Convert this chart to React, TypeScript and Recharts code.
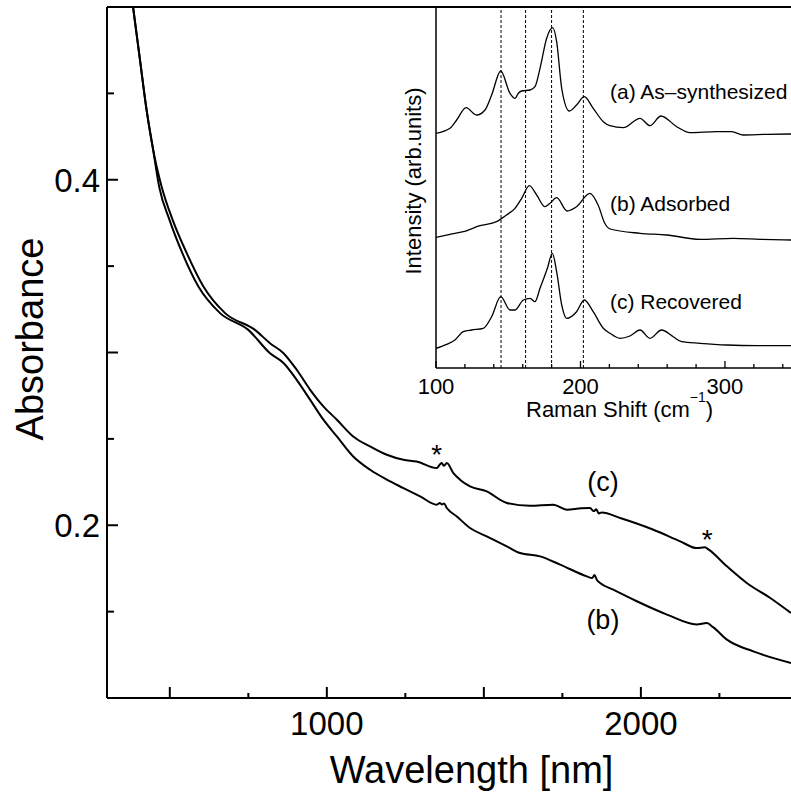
import React from 'react';
import { LineChart, Line, XAxis, YAxis, ReferenceLine, ReferenceDot, Label } from 'recharts';

const FONT = '"Liberation Sans", Arial, Helvetica, sans-serif';

// absorption spectra, [wavelength nm, absorbance]
const recoveredC: [number, number][] = [
  [383, 0.5], [405, 0.4694], [426, 0.4404], [447, 0.4173], [474, 0.396], [509, 0.3768],
  [554, 0.3575], [607, 0.3382], [676, 0.3228], [771, 0.3131], [819, 0.3054], [862, 0.2996],
  [904, 0.29], [947, 0.2784], [989, 0.2688], [1032, 0.2611], [1084, 0.2514], [1138, 0.2456],
  [1191, 0.2408], [1244, 0.2379], [1286, 0.2369], [1350, 0.2331], [1360, 0.2352], [1366, 0.236],
  [1373, 0.2344], [1382, 0.236], [1403, 0.2302], [1424, 0.2264], [1456, 0.2225], [1509, 0.2196],
  [1573, 0.2129], [1647, 0.2113], [1721, 0.2119], [1764, 0.209], [1810, 0.2098], [1838, 0.21],
  [1850, 0.2082], [1858, 0.2092], [1866, 0.2068], [1875, 0.2074], [1934, 0.2042], [2040, 0.1974],
  [2125, 0.1907], [2178, 0.1868], [2204, 0.1872], [2215, 0.186], [2274, 0.1762], [2337, 0.1666],
  [2412, 0.1579], [2478, 0.1492],
];

const adsorbedB: [number, number][] = [
  [383, 0.5], [405, 0.4694], [426, 0.4404], [447, 0.4173], [466, 0.396], [499, 0.3768],
  [540, 0.3575], [591, 0.3382], [660, 0.3228], [750, 0.3131], [819, 0.2996], [862, 0.2939],
  [904, 0.2842], [947, 0.2726], [989, 0.2611], [1032, 0.2514], [1084, 0.2398], [1138, 0.2321],
  [1191, 0.2264], [1244, 0.2215], [1297, 0.2167], [1350, 0.2119], [1360, 0.2129], [1366, 0.212],
  [1373, 0.2126], [1382, 0.21], [1414, 0.2051], [1456, 0.1984], [1509, 0.1936], [1573, 0.1878],
  [1615, 0.1839], [1679, 0.182], [1743, 0.1772], [1828, 0.1704], [1845, 0.1694], [1852, 0.1712],
  [1860, 0.1683], [1870, 0.1666], [1912, 0.1627], [1987, 0.156], [2083, 0.1483], [2178, 0.1426],
  [2210, 0.1434], [2230, 0.141], [2274, 0.1338], [2358, 0.127], [2478, 0.1203],
];

const wlTicks = [500, 750, 1000, 1250, 1500, 1750, 2000, 2250];
const wlMajor = [500, 1000, 1500, 2000];
const wlLabels = [1000, 2000];
const absTicks = [0.15, 0.2, 0.25, 0.3, 0.35, 0.4, 0.45];
const absMajor = [0.2, 0.3, 0.4];
const absLabels = [0.2, 0.4];

// raman inset, [shift cm-1, intensity arb.]
const ramanA: [number, number][] = [
  [100, 234.7], [109.7, 239.7], [114.3, 248], [120.8, 260.3], [128.1, 253], [133.9, 258],
  [138.5, 273], [144.8, 297], [151.2, 274.7], [154.7, 269.7], [157, 274.7], [159.3, 277],
  [165.1, 278], [168.5, 281.3], [172, 299.7], [176.6, 329.7], [180.7, 340.3], [183.5, 326.3],
  [187, 279.7], [192.3, 257], [197.3, 263], [202.6, 271.3], [208.8, 259.7], [215.8, 246.3],
  [220.4, 242.3], [229.6, 240.3], [241.2, 249.7], [248.1, 242.3], [255.7, 252], [266.6, 241.3],
  [275.8, 235.3], [294.3, 236.3], [304.6, 236.3], [312.7, 233], [328.9, 233.7], [345.7, 234],
];

const ramanB: [number, number][] = [
  [100, 130.7], [109.7, 133.7], [118.9, 136.3], [130.4, 142.3], [141.9, 146.3], [148.8, 153],
  [154.7, 159.7], [159.3, 169.7], [164.6, 182.3], [169.7, 173], [175.4, 161.3], [178.9, 164.7],
  [183.5, 170.3], [190.8, 157], [197.3, 161.3], [206.5, 174.7], [212.2, 163], [216.8, 144.7],
  [220.4, 139], [241.2, 134.7], [259.7, 133], [282.8, 128.7], [305.8, 129.7], [324.3, 128.7],
  [345.7, 128],
];

const ramanC: [number, number][] = [
  [100, 19.7], [107.4, 23.7], [113.1, 28], [118.9, 36.3], [124.7, 38], [132.7, 39.7],
  [138.5, 51.3], [144.8, 71.3], [151.2, 58], [154.7, 58], [160.4, 68], [165.1, 69.7],
  [168.5, 66.3], [172, 79.7], [177.1, 99.7], [180.5, 114.7], [183.5, 96.3], [187, 63],
  [190.4, 49.7], [197.3, 56.3], [202.6, 68], [208.8, 56.3], [215.8, 39.7], [220.4, 34.7],
  [227.3, 29.7], [234.2, 32], [241.2, 38], [248.1, 29.7], [256.1, 38], [264.2, 31.3],
  [270, 26.3], [282.8, 24.7], [301.2, 23], [322, 22.3], [345.7, 22.3],
];

const ramanTicks = [100, 120, 140, 160, 180, 200, 220, 240, 260, 280, 300, 320, 340];
const ramanLabels = [100, 200, 300];
const ramanPeaks = [145, 162, 180, 202];

const toPts = (arr: [number, number][]) => arr.map(([x, y]) => ({ x, y }));
const near = (list: number[], v: number) => list.some((t) => Math.abs(t - v) < 1e-6);

const txt = { fill: '#000', fontFamily: FONT };

const WlTick = (p: any) => {
  const v = p.payload.value;
  const len = near(wlMajor, v) ? 11 : 5;
  return (
    <g>
      <line x1={p.x} y1={p.y} x2={p.x} y2={p.y - len} stroke="#000" strokeWidth={2} />
      {near(wlLabels, v) && (
        <text x={p.x} y={p.y + 37} textAnchor="middle" fontSize={33} {...txt}>{v}</text>
      )}
    </g>
  );
};

const AbsTick = (p: any) => {
  const v = p.payload.value;
  const len = near(absMajor, v) ? 11 : 7;
  return (
    <g>
      <line x1={p.x} y1={p.y} x2={p.x + len} y2={p.y} stroke="#000" strokeWidth={2} />
      {near(absLabels, v) && (
        <text x={p.x - 7} y={p.y + 12} textAnchor="end" fontSize={33} {...txt}>{v.toFixed(1)}</text>
      )}
    </g>
  );
};

const RamanTick = (p: any) => {
  const v = p.payload.value;
  const len = near(ramanLabels, v) ? 7 : 4;
  return (
    <g>
      <line x1={p.x} y1={p.y} x2={p.x} y2={p.y - len} stroke="#000" strokeWidth={1.3} />
      {near(ramanLabels, v) && (
        <text x={p.x} y={p.y + 26} textAnchor="middle" fontSize={22} {...txt}>{v}</text>
      )}
    </g>
  );
};

const boxOf = (p: any) => p.viewBox || { x: p.x || 0, y: p.y || 0, width: 0, height: 0 };

// text centred on a reference dot
const tag = (value: string, size: number, dy: number, anchor = 'middle') => (p: any) => {
  const vb = boxOf(p);
  return (
    <text x={vb.x + (vb.width || 0) / 2} y={vb.y + (vb.height || 0) / 2 + dy} textAnchor={anchor} fontSize={size} {...txt}>
      {value}
    </text>
  );
};

const AbsTitle = (p: any) => {
  const vb = boxOf(p);
  const x = vb.x + 43;
  const y = vb.y + 332;
  return (
    <text x={x} y={y} transform={`rotate(-90 ${x} ${y})`} textAnchor="middle" fontSize={38} {...txt}>Absorbance</text>
  );
};

const WlTitle = (p: any) => {
  const vb = boxOf(p);
  return (
    <text x={vb.x + 364.5} y={vb.y + 85} textAnchor="middle" fontSize={38} {...txt}>Wavelength [nm]</text>
  );
};

const RamanTitle = (p: any) => {
  const vb = boxOf(p);
  return (
    <text x={vb.x + 90} y={vb.y + 49} fontSize={22} {...txt}>
      Raman Shift (cm<tspan dy={-15} fontSize={14} fill="#000">−1</tspan><tspan dy={15}>)</tspan>
    </text>
  );
};

const IntensityTitle = (p: any) => {
  const vb = boxOf(p);
  const x = vb.x + 41;
  const y = vb.y + 174;
  return (
    <text x={x} y={y} transform={`rotate(-90 ${x} ${y})`} textAnchor="middle" fontSize={22} {...txt}>Intensity (arb.units)</text>
  );
};

const axisStyle = { stroke: '#000', strokeWidth: 2 };
const insetAxis = { stroke: '#000', strokeWidth: 1.5 };

export default function App() {
  return (
    <div style={{ position: 'absolute', left: 0, top: 0, width: 791, height: 803, background: '#fff' }}>
      <div style={{ position: 'absolute', left: 0, top: 0 }}>
        <LineChart width={791} height={803} margin={{ top: 7, right: 0, bottom: 0, left: 0 }}>
          <XAxis type="number" dataKey="x" domain={[300, 2478]} allowDataOverflow ticks={wlTicks} interval={0}
            height={105} tickSize={0} tickMargin={0} tickLine={false} axisLine={axisStyle} tick={WlTick}>
            <Label content={WlTitle} />
          </XAxis>
          <YAxis type="number" dataKey="y" domain={[0.1, 0.5]} allowDataOverflow ticks={absTicks} interval={0}
            width={107} tickSize={0} tickMargin={0} tickLine={false} axisLine={axisStyle} tick={AbsTick}>
            <Label content={AbsTitle} />
          </YAxis>
          <ReferenceLine y={0.5} stroke="#000" strokeWidth={2} />
          <Line data={toPts(adsorbedB)} dataKey="y" type="monotone" stroke="#000" strokeWidth={2} dot={false} isAnimationActive={false} />
          <Line data={toPts(recoveredC)} dataKey="y" type="monotone" stroke="#000" strokeWidth={2} dot={false} isAnimationActive={false} />
          <ReferenceDot x={1879} y={0.22} r={0} fill="none" stroke="none" label={tag('(c)', 27, 0)} />
          <ReferenceDot x={1879} y={0.14} r={0} fill="none" stroke="none" label={tag('(b)', 27, 0)} />
          <ReferenceDot x={1350} y={0.2449} r={0} fill="none" stroke="none" label={tag('*', 28, 16)} />
          <ReferenceDot x={2211} y={0.1957} r={0} fill="none" stroke="none" label={tag('*', 28, 16)} />
        </LineChart>
      </div>
      <div style={{ position: 'absolute', left: 380, top: 0 }}>
        <LineChart width={411} height={430} margin={{ top: 7, right: 0, bottom: 0, left: 0 }}>
          <XAxis type="number" dataKey="x" domain={[100, 345.7]} allowDataOverflow ticks={ramanTicks} interval={0}
            height={62} tickSize={0} tickMargin={0} tickLine={false} axisLine={insetAxis} tick={RamanTick}>
            <Label content={RamanTitle} />
          </XAxis>
          <YAxis type="number" dataKey="y" domain={[0, 361]} allowDataOverflow width={56} tick={false}
            tickLine={false} axisLine={insetAxis}>
            <Label content={IntensityTitle} />
          </YAxis>
          {ramanPeaks.map((p) => (
            <ReferenceLine key={p} x={p} stroke="#000" strokeWidth={1} strokeDasharray="3 2" />
          ))}
          <Line data={toPts(ramanA)} dataKey="y" type="monotone" stroke="#000" strokeWidth={1.3} dot={false} isAnimationActive={false} />
          <Line data={toPts(ramanB)} dataKey="y" type="monotone" stroke="#000" strokeWidth={1.3} dot={false} isAnimationActive={false} />
          <Line data={toPts(ramanC)} dataKey="y" type="monotone" stroke="#000" strokeWidth={1.3} dot={false} isAnimationActive={false} />
          <ReferenceDot x={220.4} y={269} r={0} fill="none" stroke="none" label={tag('(a) As–synthesized', 21, 0, 'start')} />
          <ReferenceDot x={220.4} y={157.5} r={0} fill="none" stroke="none" label={tag('(b) Adsorbed', 21, 0, 'start')} />
          <ReferenceDot x={220.4} y={59} r={0} fill="none" stroke="none" label={tag('(c) Recovered', 21, 0, 'start')} />
        </LineChart>
      </div>
    </div>
  );
}
